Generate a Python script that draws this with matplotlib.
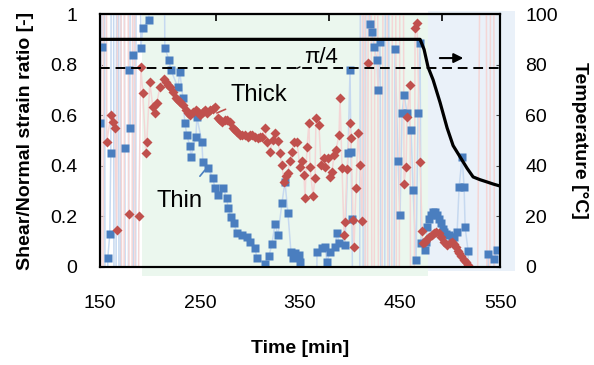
import numpy as np
import matplotlib
matplotlib.use('Agg')
import matplotlib.pyplot as plt
from matplotlib.patches import Rectangle
import matplotlib.transforms as mtransforms

plt.rcParams['font.family'] = ['Liberation Sans', 'DejaVu Sans']

# Thin sample: time [min], shear/normal strain ratio (values outside 0..1 run off the chart)
thin_t = [150, 152, 154, 156, 158, 160, 161, 163, 165, 168, 170, 172, 175, 177, 179, 180,
          182, 183, 185, 187, 191, 193, 199, 210, 215, 219, 221, 228, 230, 233, 235, 237,
          240, 241, 246, 247, 252, 253, 258, 263, 265, 268, 273, 277, 278, 281, 284, 287,
          292, 297, 300, 305, 307, 315, 319, 322, 325, 328, 332, 335, 338, 341, 343, 345,
          349, 350, 355, 362, 367, 372, 375, 377, 380, 385, 387, 389, 395, 398, 400, 401,
          402, 408, 412, 414, 417, 420, 422, 424, 427, 428, 430, 433, 437, 441, 445, 448,
          450, 452, 454, 457, 461, 463, 466, 468, 470, 471, 475, 476, 477, 479, 481, 483,
          485, 487, 489, 491, 493, 494, 496, 499, 502, 504, 507, 509, 512, 514, 515, 518,
          525, 532, 538, 541, 544, 547]
thin_r = [0.57, 0.87, 4, -3, 0.036, 0.13, 0.45, 4, -3, 4, -3, 4, 0.47, -3, 0.78, 0.55,
          4, 0.84, -3, 4, 0.866, 0.945, 0.976, 4, 0.866, 0.82, 0.78, 0.71, 0.77, 0.67, 0.57, 0.52,
          0.48, 0.435, 0.514, 0.593, 0.494, 0.415, 0.391, 0.352, 0.312, 0.284, 0.312, 0.273, 0.233, 0.198, 0.174, 0.134,
          0.126, 0.119, 0.099, 0.075, 0.036, 0.012, 0.043, 0.091, 0.170, 0.126, 0.253, 0.336, 0.213, 0.059, 0.036, 0.055,
          0.047, 0.02, -3, -3, 0.06, 0.075, 0.079, 0.02, 0.06, 0.079, 0.134, 0.095, 0.087, 0.45, 0.78, 0.455,
          0.19, -3, 4, -3, 4, 0.96, 0.93, 0.87, 0.82, 0.70, 0.89, -3, 4, -3, 0.86, 0.42,
          0.206, 0.609, 0.68, 0.609, 0.54, 0.304, 0.028, 0.609, 0.885, 0.095, 0.067, 0.10, 0.158, 0.19, 0.206, 0.217,
          0.217, 0.206, 0.19, 0.174, 0.15, 0.138, 0.13, 0.126, 0.12, 0.119, 0.138, 0.316, 0.435, 0.316, 0.158, 0.063,
          -3, -3, 0.051, -3, 0.03, 0.067]

# Thick sample
thick_t = [150, 152, 155, 157, 161, 163, 165, 167, 170, 173, 176, 179, 181, 184, 186, 189,
           191, 193, 196, 197, 200, 203, 205, 207, 210, 214, 216, 218, 220, 223, 226, 228,
           230, 233, 236, 238, 240, 243, 246, 248, 250, 253, 255, 257, 260, 263, 265, 268,
           270, 272, 275, 277, 280, 283, 285, 287, 290, 292, 295, 298, 300, 302, 305, 308,
           310, 312, 315, 317, 320, 323, 325, 328, 330, 332, 334, 336, 338, 340, 342, 344,
           347, 350, 352, 354, 355, 357, 359, 360, 363, 365, 366, 369, 371, 374, 375, 378,
           380, 382, 384, 386, 389, 390, 392, 394, 395, 397, 400, 401, 403, 404, 406, 408,
           410, 412, 414, 416, 418, 420, 423, 426, 430, 435, 440, 444, 448, 451, 454, 456,
           457, 460, 462, 465, 467, 470, 472, 473, 475, 477, 479, 482, 484, 486, 489, 491,
           494, 497, 500, 502, 504, 506, 508, 509, 511, 514, 516, 518, 522, 535, 538, 542, 546]
thick_r = [4, -3, 4, 0.494, 0.60, 0.573, 0.549, 0.146, 4, -3, 4, 0.21, -3, 4, -3, 0.20,
           0.79, 0.688, 0.45, 0.494, 0.73, 0.632, 0.609, 0.65, 0.71, 0.743, 0.73, 0.72, 0.71, 0.69, 0.67, 0.66,
           0.652, 0.64, 0.62, 0.61, 0.60, 0.613, 0.62, 0.613, 0.60, 0.613, 0.62, 0.609, 0.62, 0.625, 0.632, 0.589,
           0.58, 0.573, 0.58, 0.581, 0.573, 0.549, 0.54, 0.534, 0.52, 0.52, 0.52, 0.514, 0.52, 0.52, 0.514, 0.51,
           0.514, 0.514, 0.549, 0.494, 0.455, 0.502, 0.53, 0.50, 0.45, 0.403, 0.336, 0.36, 0.372, 0.42, 0.455, 0.494,
           0.494, 0.395, 0.42, 0.364, 0.273, 0.474, 0.569, 0.395, 0.281, 0.352, 0.589, 0.561, 0.403, 0.431, 0.395, 0.431,
           0.356, 0.375, 0.443, 0.462, 0.522, 0.668, 0.391, 0.126, 0.178, 0.387, 0.569, 0.51, 0.186, 0.079, 0.312, 0.53,
           0.403, 0.182, 4, -3, 0.806, 4, -3, 4, -3, 4, -3, 4, -3, 4, 0.33, 0.395,
           0.593, 0.72, -3, 0.945, 0.964, 0.415, 0.142, 0.095, 0.10, 0.11, 0.119, 0.128, 0.134, 0.138, 0.134, 0.12,
           0.099, 0.087, 0.095, 0.099, 0.09, 0.079, 0.065, 0.055, 0.045, 0.028, 0.018, 0.008, -3, 4, -3, 4, -3]

# Temperature [C]
temp_t = [150, 470, 474, 478, 483, 490, 497, 503, 510, 517, 523, 530, 537, 543, 550]
temp_v = [90, 90, 86, 79, 74, 65, 55, 48, 43.5, 39, 35.6, 34.5, 33.6, 32.8, 32]

blue = '#4A7EBF'
red = '#C0504D'

fig = plt.figure(figsize=(5.94, 3.65), dpi=100)
ax = fig.add_axes([0.168, 0.2685, 0.674, 0.693])
ax2 = ax.twinx()

# shaded regions
trans = mtransforms.blended_transform_factory(ax.transData, ax.transAxes)
ax.add_patch(Rectangle((192, -0.036), 286, 1.036, transform=trans, color='#EBF7EE',
                       lw=0, zorder=0, clip_on=False))
ax.add_patch(Rectangle((478, -0.016), 87, 1.028, transform=trans, color='#EAF1F9',
                       lw=0, zorder=0, clip_on=False))

ax.plot(thin_t, thin_r, '-', color='#C6D9F0', lw=1.1, zorder=2)
ax.plot(thick_t, thick_r, '-', color='#F4D6D6', lw=1.1, zorder=2)
ax.plot(thin_t, thin_r, 's', color=blue, ms=5.5, mec='none', zorder=3)
ax.plot(thick_t, thick_r, 'D', color=red, ms=5, mec='none', zorder=4)
ax.axhline(np.pi / 4, color='k', ls=(0, (5, 3)), lw=1.4, zorder=5)

ax2.plot(temp_t, temp_v, 'k-', lw=2.3, zorder=6)

ax.set_xlim(150, 550)
ax.set_ylim(0, 1)
ax2.set_ylim(0, 100)

ax.set_xticks([150, 250, 350, 450, 550])
ax.set_xticks([250, 450], minor=True)
ax.tick_params(axis='x', which='major', length=0, labelsize=14, pad=20)
ax.tick_params(axis='x', which='minor', direction='in', length=5, width=1.2, top=False)
ax.set_yticks([0, 0.2, 0.4, 0.6, 0.8, 1])
ax.set_yticklabels(['0', '0.2', '0.4', '0.6', '0.8', '1'])
ax.tick_params(axis='y', direction='in', length=3, labelsize=14, pad=16, color='#444444')
ax2.set_yticks([0, 20, 40, 60, 80, 100])
ax2.tick_params(axis='y', direction='in', length=3, labelsize=14, pad=18, color='#444444')

sec = ax.secondary_xaxis('top')
sec.set_xticks([266, 379, 492])
sec.set_xticklabels([])
sec.tick_params(direction='in', length=5, width=1.2)

for a in (ax, ax2):
    for s in a.spines.values():
        s.set_linewidth(1.5)
    a.set_facecolor('none')
sec.spines['top'].set_linewidth(1.5)

ax.set_xlabel('Time [min]', fontsize=14, fontweight='bold', labelpad=20)
ax.set_ylabel('Shear/Normal strain ratio [-]', fontsize=14, fontweight='bold', labelpad=12)
ax2.set_ylabel('Temperature [°C]', fontsize=14, fontweight='bold', rotation=-90, labelpad=22)

# annotations
ax.annotate('Thick', xy=(267, 0.609), xytext=(281, 0.68), fontsize=17, va='center',
            arrowprops=dict(arrowstyle='-', color=red, lw=1.2, shrinkA=2, shrinkB=0), zorder=7)
ax.annotate('Thin', xy=(255, 0.383), xytext=(207, 0.262), fontsize=17, va='center',
            arrowprops=dict(arrowstyle='-', color=blue, lw=1.2, shrinkA=10, shrinkB=0), zorder=7)
ax.annotate('π/4', xy=(347, np.pi / 4), xytext=(354, 0.83), fontsize=16, va='center',
            arrowprops=dict(arrowstyle='-', color='k', lw=1, shrinkA=1, shrinkB=0), zorder=7)
ax.annotate('', xy=(516, 0.826), xytext=(487, 0.826),
            arrowprops=dict(arrowstyle='-|>', color='k', lw=1.5, mutation_scale=14), zorder=7)

fig.savefig('out.png', dpi=100)
